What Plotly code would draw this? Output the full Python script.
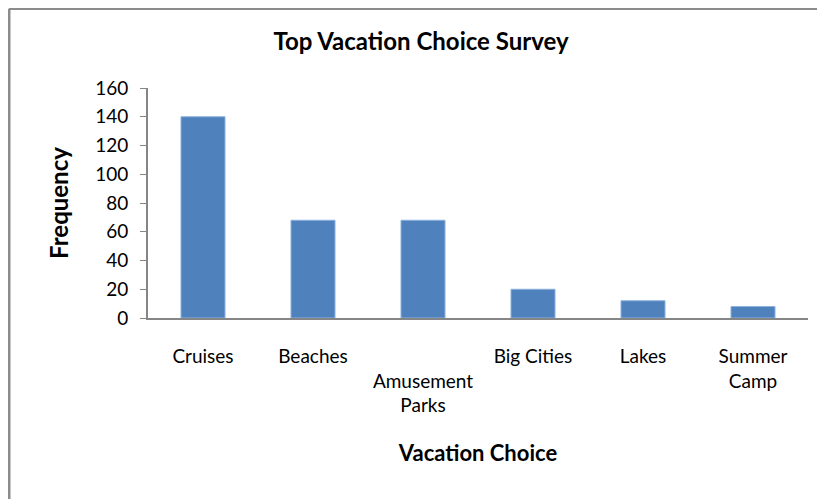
import plotly.graph_objects as go

categories = ["Cruises", "Beaches", "Amusement Parks", "Big Cities", "Lakes", "Summer Camp"]
tick_labels = ["Cruises", "Beaches", " <br>Amusement<br>Parks", "Big Cities", "Lakes", "Summer<br>Camp"]
frequency = [140, 68, 68, 20, 12, 8]
y_ticks = [0, 20, 40, 60, 80, 100, 120, 140, 160]

FONT = "Lato, Noto Sans, sans-serif"

fig = go.Figure(go.Bar(
    x=categories, y=frequency,
    marker=dict(color="#4F81BD", line=dict(color="#8DB0DC", width=1)),
    width=0.4,
))

fig.update_layout(
    width=817, height=491,
    margin=dict(l=140, r=17, t=80, b=181),
    paper_bgcolor="white", plot_bgcolor="white",
    showlegend=False,
    font=dict(family=FONT, color="black", size=18),
    title=dict(text="<b>Top Vacation Choice Survey</b>", x=0.5055, xanchor="center",
               y=0.931, yanchor="middle", font=dict(size=24, family=FONT)),
    xaxis=dict(
        tickmode="array", tickvals=categories, ticktext=tick_labels,
        showline=True, linecolor="#868686", linewidth=2,
        ticks="", showgrid=False, ticklabelstandoff=20,
        tickfont=dict(size=19),
        title=dict(text="<b>Vacation Choice</b>", font=dict(size=22, family=FONT), standoff=30),
    ),
    yaxis=dict(
        range=[0, 160], tickvals=y_ticks,
        showline=True, linecolor="#868686", linewidth=2,
        ticks="outside", ticklen=6, tickcolor="#868686", tickwidth=1,
        showgrid=False, zeroline=False, ticklabelstandoff=8,
        tickfont=dict(size=19),
        title=dict(text="<b>Frequency</b>", font=dict(size=24, family=FONT), standoff=20),
    ),
    shapes=[
        dict(type="line", xref="paper", yref="paper", x0=-0.2106, x1=1.2, y0=1.3435, y1=1.3435,
             line=dict(color="#8C8C8C", width=2)),
        dict(type="line", xref="paper", yref="paper", x0=-0.2106, x1=-0.2106, y0=1.345, y1=-1.0,
             line=dict(color="#8C8C8C", width=3)),
    ],
)

fig.write_html("out.html")
